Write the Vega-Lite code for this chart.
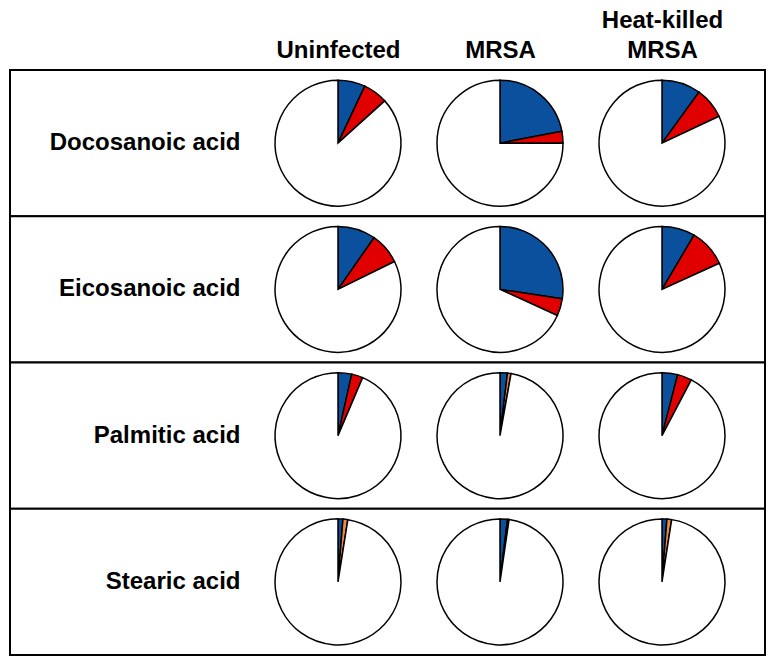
{
  "$schema": "https://vega.github.io/schema/vega-lite/v6.json",
  "width": 755,
  "height": 585,
  "autosize": {"type": "none"},
  "padding": {"left": 10, "top": 70, "right": 6, "bottom": 10},
  "background": "white",
  "config": {"view": {"stroke": null}, "font": "Liberation Sans"},
  "data": {
    "values": [
      {"acid": "Docosanoic acid", "condition": "Uninfected", "slice": "first", "order": 1, "value": 7},
      {"acid": "Docosanoic acid", "condition": "Uninfected", "slice": "second", "order": 2, "value": 6.3},
      {"acid": "Docosanoic acid", "condition": "Uninfected", "slice": "rest", "order": 3, "value": 86.7},
      {"acid": "Docosanoic acid", "condition": "MRSA", "slice": "first", "order": 1, "value": 22},
      {"acid": "Docosanoic acid", "condition": "MRSA", "slice": "second", "order": 2, "value": 3},
      {"acid": "Docosanoic acid", "condition": "MRSA", "slice": "rest", "order": 3, "value": 75},
      {"acid": "Docosanoic acid", "condition": "Heat-killed MRSA", "slice": "first", "order": 1, "value": 10},
      {"acid": "Docosanoic acid", "condition": "Heat-killed MRSA", "slice": "second", "order": 2, "value": 8},
      {"acid": "Docosanoic acid", "condition": "Heat-killed MRSA", "slice": "rest", "order": 3, "value": 82},
      {"acid": "Eicosanoic acid", "condition": "Uninfected", "slice": "first", "order": 1, "value": 9.7},
      {"acid": "Eicosanoic acid", "condition": "Uninfected", "slice": "second", "order": 2, "value": 8},
      {"acid": "Eicosanoic acid", "condition": "Uninfected", "slice": "rest", "order": 3, "value": 82.3},
      {"acid": "Eicosanoic acid", "condition": "MRSA", "slice": "first", "order": 1, "value": 27.4},
      {"acid": "Eicosanoic acid", "condition": "MRSA", "slice": "second", "order": 2, "value": 4.4},
      {"acid": "Eicosanoic acid", "condition": "MRSA", "slice": "rest", "order": 3, "value": 68.2},
      {"acid": "Eicosanoic acid", "condition": "Heat-killed MRSA", "slice": "first", "order": 1, "value": 8.5},
      {"acid": "Eicosanoic acid", "condition": "Heat-killed MRSA", "slice": "second", "order": 2, "value": 9.7},
      {"acid": "Eicosanoic acid", "condition": "Heat-killed MRSA", "slice": "rest", "order": 3, "value": 81.8},
      {"acid": "Palmitic acid", "condition": "Uninfected", "slice": "first", "order": 1, "value": 3.5},
      {"acid": "Palmitic acid", "condition": "Uninfected", "slice": "second", "order": 2, "value": 2.9},
      {"acid": "Palmitic acid", "condition": "Uninfected", "slice": "rest", "order": 3, "value": 93.6},
      {"acid": "Palmitic acid", "condition": "MRSA", "slice": "first", "order": 1, "value": 1.9},
      {"acid": "Palmitic acid", "condition": "MRSA", "slice": "second (minor)", "order": 2, "value": 0.9},
      {"acid": "Palmitic acid", "condition": "MRSA", "slice": "rest", "order": 3, "value": 97.2},
      {"acid": "Palmitic acid", "condition": "Heat-killed MRSA", "slice": "first", "order": 1, "value": 4},
      {"acid": "Palmitic acid", "condition": "Heat-killed MRSA", "slice": "second", "order": 2, "value": 3.7},
      {"acid": "Palmitic acid", "condition": "Heat-killed MRSA", "slice": "rest", "order": 3, "value": 92.3},
      {"acid": "Stearic acid", "condition": "Uninfected", "slice": "first", "order": 1, "value": 1.25},
      {"acid": "Stearic acid", "condition": "Uninfected", "slice": "second (minor)", "order": 2, "value": 1.25},
      {"acid": "Stearic acid", "condition": "Uninfected", "slice": "rest", "order": 3, "value": 97.5},
      {"acid": "Stearic acid", "condition": "MRSA", "slice": "first", "order": 1, "value": 1.9},
      {"acid": "Stearic acid", "condition": "MRSA", "slice": "second", "order": 2, "value": 0.4},
      {"acid": "Stearic acid", "condition": "MRSA", "slice": "rest", "order": 3, "value": 97.7},
      {"acid": "Stearic acid", "condition": "Heat-killed MRSA", "slice": "first", "order": 1, "value": 1.25},
      {"acid": "Stearic acid", "condition": "Heat-killed MRSA", "slice": "second (minor)", "order": 2, "value": 1.2},
      {"acid": "Stearic acid", "condition": "Heat-killed MRSA", "slice": "rest", "order": 3, "value": 97.55}
    ]
  },
  "transform": [
    {"stack": "value", "groupby": ["acid", "condition"], "sort": [{"field": "order", "order": "ascending"}], "as": ["v0", "v1"]}
  ],
  "encoding": {
    "y": {
      "field": "acid",
      "type": "nominal",
      "sort": ["Docosanoic acid", "Eicosanoic acid", "Palmitic acid", "Stearic acid"],
      "scale": {"type": "band", "paddingInner": 0, "paddingOuter": 0},
      "axis": {
        "title": null,
        "orient": "left",
        "offset": -238,
        "domain": false,
        "ticks": false,
        "labelFontSize": 24,
        "labelFontWeight": "bold",
        "labelPadding": 8,
        "labelColor": "black",
        "labelLimit": 300,
        "zindex": 2
      }
    }
  },
  "layer": [
    {
      "transform": [{"filter": "datum.order == 1 && datum.condition == 'Uninfected'"}],
      "mark": {"type": "rect", "fill": "white", "stroke": "black", "strokeWidth": 2},
      "encoding": {}
    },
    {
      "mark": {"type": "arc", "outerRadius": 63, "stroke": "black", "strokeWidth": 1.5},
      "encoding": {
        "x": {
          "field": "condition",
          "type": "nominal",
          "sort": ["Uninfected", "MRSA", "Heat-killed MRSA"],
          "scale": {"type": "point", "range": [328, 652], "padding": 0},
          "axis": {
            "title": null,
            "orient": "top",
            "domain": false,
            "ticks": false,
            "labelAngle": 0,
            "labelFontSize": 24,
            "labelFontWeight": "bold",
            "labelPadding": 38,
            "labelColor": "black",
            "labelLineHeight": 30,
            "labelExpr": "datum.value == 'Heat-killed MRSA' ? ['Heat-killed', 'MRSA'] : ['', datum.value]",
            "zindex": 2
          }
        },
        "theta": {"field": "v0", "type": "quantitative", "stack": null, "scale": {"domain": [0, 100]}},
        "theta2": {"field": "v1"},
        "color": {
          "field": "slice",
          "type": "nominal",
          "scale": {"domain": ["first", "second", "second (minor)", "rest"], "range": ["#0B509C", "#E00000", "#EE8A3C", "#FFFFFF"]},
          "legend": null
        }
      }
    }
  ]
}
